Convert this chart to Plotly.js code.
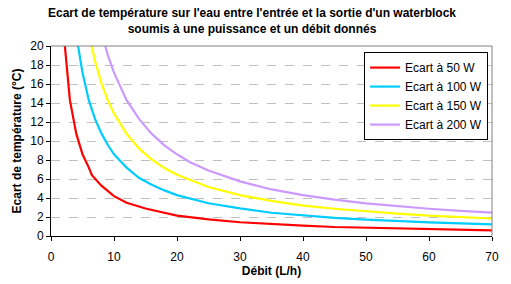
<!DOCTYPE html>
<html>
<head>
<meta charset="utf-8">
<script src="https://cdn.plot.ly/plotly-3.0.1.min.js"></script>
<style>html,body{margin:0;padding:0;background:#fff;}#chart{width:511px;height:284px;}</style>
</head>
<body>
<div id="chart"></div>
<script>
// Débit (L/h) and temperature difference (°C)
const flow50 = [2.2, 3, 4, 5, 6, 6.5, 8, 10, 12, 15, 20, 25, 30, 35, 40, 45, 50, 55, 60, 65, 70];
const ecart50 = [20, 14.3, 10.8, 8.6, 7.2, 6.4, 5.3, 4.2, 3.5, 2.9, 2.15, 1.75, 1.45, 1.25, 1.1, 0.95, 0.87, 0.78, 0.72, 0.66, 0.6];

const flow100 = [4.3, 5, 6, 7, 8, 9, 10, 12, 14, 16, 18, 20, 25, 30, 35, 40, 45, 50, 55, 60, 65, 70];
const ecart100 = [20, 17.2, 14.3, 12.3, 10.8, 9.6, 8.6, 7.2, 6.1, 5.4, 4.8, 4.3, 3.45, 2.9, 2.45, 2.15, 1.9, 1.72, 1.56, 1.43, 1.32, 1.23];

const flow150 = [6.45, 7, 8, 9, 10, 12, 14, 16, 18, 20, 25, 30, 35, 40, 45, 50, 55, 60, 65, 70];
const ecart150 = [20, 18.4, 16.1, 14.3, 12.9, 10.75, 9.2, 8.05, 7.15, 6.45, 5.15, 4.3, 3.7, 3.2, 2.87, 2.58, 2.35, 2.15, 1.98, 1.84];

const flow200 = [8.6, 9, 10, 12, 14, 16, 18, 20, 22, 25, 30, 35, 40, 45, 50, 55, 60, 65, 70];
const ecart200 = [20, 19.1, 17.2, 14.3, 12.3, 10.75, 9.55, 8.6, 7.8, 6.9, 5.75, 4.9, 4.3, 3.82, 3.44, 3.13, 2.87, 2.65, 2.46];

const seriesNames = ["Ecart à 50 W", "Ecart à 100 W", "Ecart à 150 W", "Ecart à 200 W"];
const seriesColors = ["#FF0000", "#00CCFF", "#FFFF00", "#CC99FF"];
const chartTitle = "<b>Ecart de température sur l'eau entre l'entrée et la sortie d'un waterblock<br>soumis à une puissance et un débit donnés</b>";
const xs = [flow50, flow100, flow150, flow200];
const ys = [ecart50, ecart100, ecart150, ecart200];

const traces = xs.map((x, i) => ({
  x: x, y: ys[i], type: "scatter", mode: "lines", name: seriesNames[i],
  line: {color: seriesColors[i], width: 2.2}
}));

const font = {family: "Arial, 'Liberation Sans', sans-serif", size: 12, color: "#000"};

const layout = {
  width: 511, height: 284,
  margin: {l: 51, r: 19, t: 46, b: 48, pad: 0},
  paper_bgcolor: "#fff", plot_bgcolor: "#fff",
  font: font,
  showlegend: true,
  annotations: [{
    text: chartTitle, showarrow: false,
    xref: "paper", yref: "paper",
    x: (252 - 51) / 441, xanchor: "center",
    y: 1 + (46 - 21.5) / 190, yanchor: "middle",
    font: {family: font.family, size: 12, color: "#000"}
  }],
  xaxis: {
    range: [0, 70], dtick: 10, tick0: 0,
    showgrid: false, zeroline: false,
    showline: true, linecolor: "#000", linewidth: 1,
    ticks: "outside", ticklen: 4, tickcolor: "#000",
    ticklabelstandoff: 6,
    tickfont: {family: font.family, size: 12},
    title: {text: "<b>Débit (L/h)</b>", font: {family: font.family, size: 12}, standoff: 2}
  },
  yaxis: {
    range: [0, 20], dtick: 2, tick0: 0,
    showgrid: true, gridcolor: "#C0C0C0", gridwidth: 1, griddash: "dash",
    zeroline: false,
    showline: true, linecolor: "#000", linewidth: 1,
    ticks: "outside", ticklen: 4, tickcolor: "#000",
    tickfont: {family: font.family, size: 12},
    title: {text: "<b>Ecart de température (°C)</b>", font: {family: font.family, size: 12}, standoff: 6}
  },
  legend: {
    x: 0.71, y: 0.968, xanchor: "left", yanchor: "top",
    bgcolor: "#fff", bordercolor: "#000", borderwidth: 1,
    font: {family: font.family, size: 12},
    tracegroupgap: 0, itemwidth: 30
  },
  shapes: [
    {type: "line", xref: "paper", yref: "paper", x0: 0, x1: 1, y0: 1, y1: 1, line: {color: "#808080", width: 1}},
    {type: "line", xref: "paper", yref: "paper", x0: 1, x1: 1, y0: 0, y1: 1, line: {color: "#808080", width: 1}}
  ]
};

Plotly.newPlot("chart", traces, layout, {displayModeBar: false, staticPlot: true});
</script>
</body>
</html>
